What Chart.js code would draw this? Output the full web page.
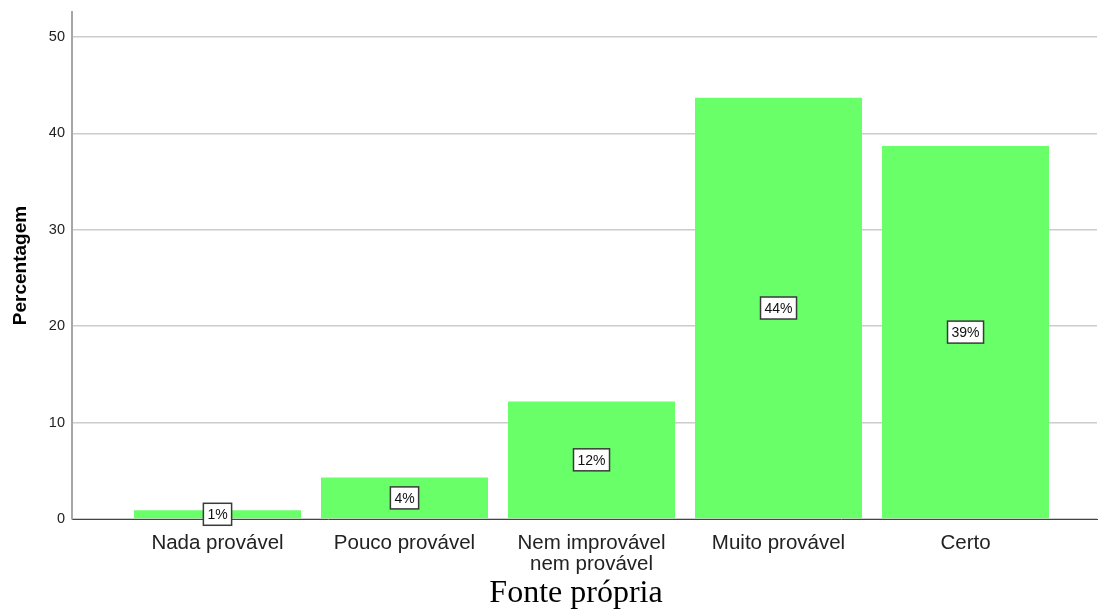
<!DOCTYPE html>
<html>
<head>
<meta charset="utf-8">
<script src="https://cdn.jsdelivr.net/npm/chart.js@4.4.1/dist/chart.umd.min.js"></script>
<style>
  html, body { margin: 0; padding: 0; background: #fff; overflow: hidden; }
  #wrap { position: relative; width: 1098px; height: 610px; }
  #fonte {
    position: absolute; left: 0; width: 1152px; top: 575px;
    text-align: center; font: 32px "Liberation Serif", "Times New Roman", serif;
    line-height: 32px; color: #000;
  }
</style>
</head>
<body>
<div id="wrap">
  <canvas id="chart" width="1098" height="610"></canvas>
  <div id="fonte">Fonte própria</div>
</div>
<script>
const categories = ["Nada provável", "Pouco provável", ["Nem improvável", "nem provável"], "Muito provável", "Certo"]
const percentages = [0.9, 4.3, 12.2, 43.7, 38.7]
const barLabels = ["1%", "4%", "12%", "44%", "39%"]
const yTicks = [0, 10, 20, 30, 40, 50]

const barColor = "#68ff68"

// caixas com a percentagem no meio de cada barra
const valueBoxes = {
  id: "valueBoxes",
  afterDatasetsDraw(chart) {
    const ctx = chart.ctx
    const meta = chart.getDatasetMeta(0)
    ctx.save()
    ctx.font = "14px 'Liberation Sans', Arial, sans-serif"
    ctx.textAlign = "center"
    ctx.textBaseline = "middle"
    meta.data.forEach((bar, i) => {
      const text = barLabels[i]
      const cx = bar.x
      const cy = (bar.y + bar.base) / 2
      const w = ctx.measureText(text).width + 8
      const h = 22
      ctx.fillStyle = "#fff"
      ctx.fillRect(cx - w / 2, cy - h / 2, w, h)
      ctx.strokeStyle = "#3a3a3a"
      ctx.lineWidth = 1.5
      ctx.strokeRect(cx - w / 2, cy - h / 2, w, h)
      ctx.fillStyle = "#111"
      ctx.fillText(text, cx, cy + 1)
    })
    ctx.restore()
  }
}

new Chart(document.getElementById("chart"), {
  type: "bar",
  data: {
    datasets: [{
      data: percentages.map((v, i) => ({ x: i, y: v })),
      backgroundColor: barColor,
      borderWidth: 0,
      categoryPercentage: 1,
      barPercentage: 0.893
    }]
  },
  options: {
    responsive: false,
    devicePixelRatio: 1,
    animation: false,
    layout: { padding: { top: 12, right: 1, left: 0, bottom: 0 } },
    plugins: {
      legend: { display: false },
      tooltip: { enabled: false }
    },
    scales: {
      x: {
        type: "linear",
        offset: false,
        min: -0.778,
        max: 4.703,
        grid: { display: false },
        border: { display: true, color: "#444", width: 1 },
        afterBuildTicks: (scale) => { scale.ticks = categories.map((c, i) => ({ value: i })) },
        afterFit: (scale) => { scale.height = 91 },
        ticks: {
          autoSkip: false,
          maxRotation: 0,
          padding: 6,
          color: "#222",
          font: { family: "'Liberation Sans', Arial, sans-serif", size: 20.5, lineHeight: 1.03 },
          callback: (v) => categories[v]
        }
      },
      y: {
        min: 0,
        max: 52.6,
        afterBuildTicks: (scale) => { scale.ticks = yTicks.map(v => ({ value: v })) },
        afterFit: (scale) => {
          scale.width = 72
          scale.paddingTop = 0
          scale.paddingBottom = 0
        },
        grid: { color: "#cccccc", lineWidth: 1.5, drawTicks: false },
        border: { display: true, color: "#a6a6a6", width: 2 },
        ticks: {
          padding: 7,
          color: "#222",
          font: { family: "'Liberation Sans', Arial, sans-serif", size: 14.5 }
        },
        title: {
          display: true,
          text: "Percentagem",
          color: "#000",
          padding: { top: 9, bottom: 0 },
          font: { family: "'Liberation Sans', Arial, sans-serif", size: 19, weight: "bold" }
        }
      }
    }
  },
  plugins: [valueBoxes]
})
</script>
</body>
</html>
